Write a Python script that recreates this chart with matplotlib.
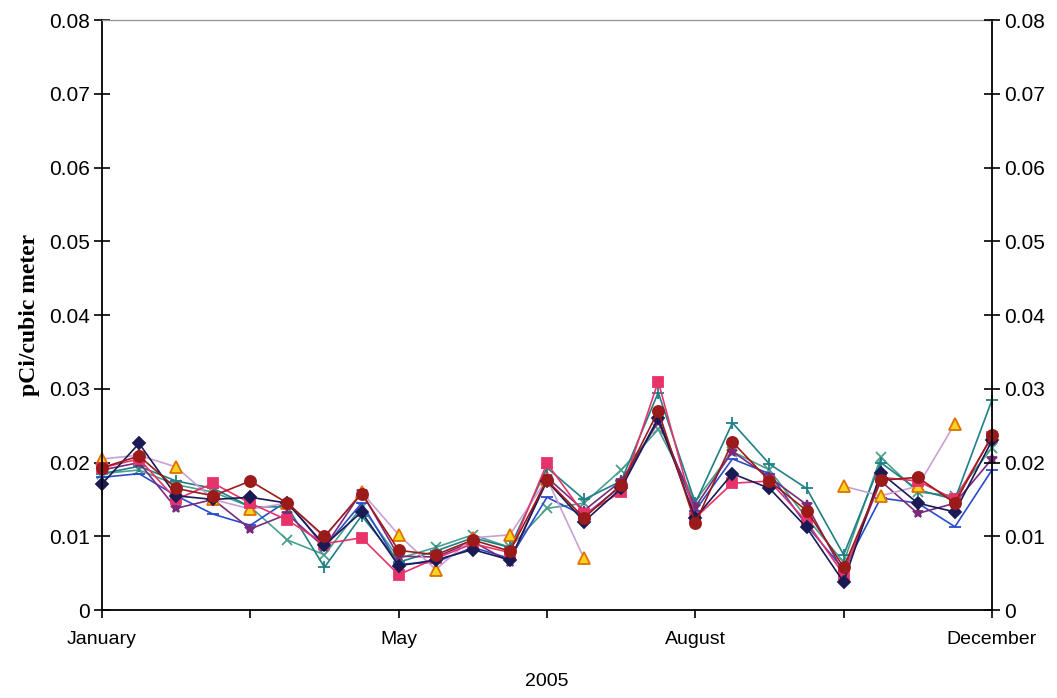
import numpy as np
import matplotlib.pyplot as plt

nan = np.nan

# biweekly samples through 2005 (25 points)
months = ["January", "", "May", "", "August", "", "December"]

navy = [0.0171, 0.0226, 0.0155, 0.0150, 0.0153, 0.0145, 0.0088, 0.0133, 0.0060, 0.0068, 0.0082, 0.0068, 0.0175,
        0.0120, 0.0165, 0.0260, 0.0125, 0.0185, 0.0165, 0.0112, 0.0038, 0.0186, 0.0145, 0.0133, 0.0230]
pink = [0.0193, 0.0205, 0.0150, 0.0172, 0.0145, 0.0122, 0.0090, 0.0098, 0.0048, 0.0070, 0.0090, 0.0078, 0.0199,
        0.0130, 0.0160, 0.0310, 0.0125, 0.0172, 0.0175, 0.0120, 0.0048, 0.0180, 0.0175, 0.0150, 0.0235]
tri = [0.0205, 0.0210, 0.0194, 0.0150, 0.0137, 0.0145, 0.0098, 0.0160, 0.0102, 0.0055, 0.0098, 0.0102, 0.0178,
       0.0070, nan, nan, nan, nan, nan, nan, 0.0168, 0.0155, 0.0168, 0.0253, nan]
cross = [0.0185, 0.0190, 0.0170, 0.0160, 0.0140, 0.0095, 0.0075, 0.0140, 0.0070, 0.0085, 0.0102, 0.0085, 0.0138,
         0.0145, 0.0190, 0.0245, 0.0148, 0.0215, 0.0190, 0.0125, 0.0065, 0.0207, 0.0160, 0.0155, 0.0220]
star = [0.0190, 0.0200, 0.0138, 0.0150, 0.0110, 0.0130, 0.0085, 0.0160, 0.0073, 0.0072, 0.0093, 0.0065, 0.0180,
        0.0135, 0.0175, 0.0255, 0.0140, 0.0215, 0.0180, 0.0143, 0.0050, 0.0175, 0.0131, 0.0145, 0.0205]
circle = [0.0193, 0.0209, 0.0165, 0.0155, 0.0175, 0.0145, 0.0100, 0.0158, 0.0081, 0.0075, 0.0095, 0.0080, 0.0176,
          0.0125, 0.0170, 0.0270, 0.0118, 0.0228, 0.0175, 0.0135, 0.0058, 0.0176, 0.0180, 0.0145, 0.0237]
plus = [0.0185, 0.0195, 0.0175, 0.0165, 0.0140, 0.0140, 0.0058, 0.0128, 0.0065, 0.0080, 0.0098, 0.0085, 0.0193,
        0.0150, 0.0175, 0.0295, 0.0145, 0.0254, 0.0198, 0.0165, 0.0075, 0.0200, 0.0163, 0.0150, 0.0285]
blue = [0.0180, 0.0185, 0.0155, 0.0130, 0.0115, 0.0148, 0.0085, 0.0145, 0.0062, 0.0065, 0.0085, 0.0070, 0.0153,
        0.0128, 0.0168, 0.0260, 0.0135, 0.0205, 0.0185, 0.0115, 0.0055, 0.0152, 0.0145, 0.0113, 0.0190]

x = np.arange(len(navy))

fig = plt.figure(figsize=(10.57, 6.98), dpi=100, facecolor='white')
ax = fig.add_axes([0.0965, 0.126, 0.842, 0.845])

# line colour, marker, marker face, marker edge, marker size
styles = [
    (cross, '#4aa08a', 'x', '#4aa08a', '#4aa08a', 7),
    (blue, '#2a4ccc', '_', '#2a4ccc', '#2a4ccc', 8),
    (plus, '#1f7f86', '+', '#1f7f86', '#1f7f86', 8),
    (star, '#7a2a7a', '*', '#7a2a7a', '#7a2a7a', 7),
    (tri, '#c9a0d4', '^', '#f7d51e', '#e07000', 9),
    (pink, '#e8336a', 's', '#e8336a', '#e8336a', 7),
    (navy, '#1a1a55', 'D', '#1a1a55', '#1a1a55', 6),
    (circle, '#9b1b1b', 'o', '#9b1b1b', '#9b1b1b', 8),
]
for vals, col, mk, mfc, mec, ms in styles:
    ax.plot(x, vals, color=col, lw=1.2, marker=mk, markerfacecolor=mfc,
            markeredgecolor=mec, markersize=ms, markeredgewidth=1.3, clip_on=False)

ylabels = ['0'] + ['%.2f' % v for v in np.arange(0.01, 0.081, 0.01)]

ax.set_xlim(0, 24)
ax.set_ylim(0, 0.08)
ax.set_yticks(np.arange(0, 0.081, 0.01))
ax.set_yticklabels(ylabels)
ax.set_xticks(np.arange(0, 25, 4))
ax.set_xticklabels(months)

for s in ['left', 'right', 'bottom']:
    ax.spines[s].set_color('black')
    ax.spines[s].set_linewidth(1.3)
ax.spines['top'].set_color('#999999')
ax.spines['top'].set_linewidth(1.0)

ax.tick_params(axis='y', direction='inout', length=12, width=1.2, labelsize=15, pad=3)
ax.tick_params(axis='x', direction='out', length=6, width=1.2, labelsize=14, pad=9)
for lab in ax.get_xticklabels() + ax.get_yticklabels():
    lab.set_fontfamily('Liberation Sans')

ax2 = ax.twinx()
ax2.set_ylim(0, 0.08)
ax2.set_yticks(np.arange(0, 0.081, 0.01))
ax2.set_yticklabels(ylabels)
ax2.tick_params(axis='y', direction='inout', length=12, width=1.2, labelsize=15, pad=3)
for lab in ax2.get_yticklabels():
    lab.set_fontfamily('Liberation Sans')
for s in ax2.spines.values():
    s.set_visible(False)

ax.set_ylabel('pCi/cubic meter', fontsize=17, fontweight='bold', fontfamily='Liberation Serif', labelpad=6)
ax.set_xlabel('2005', fontsize=14, fontfamily='Liberation Sans', labelpad=18)

fig.savefig('out.png', dpi=100)
